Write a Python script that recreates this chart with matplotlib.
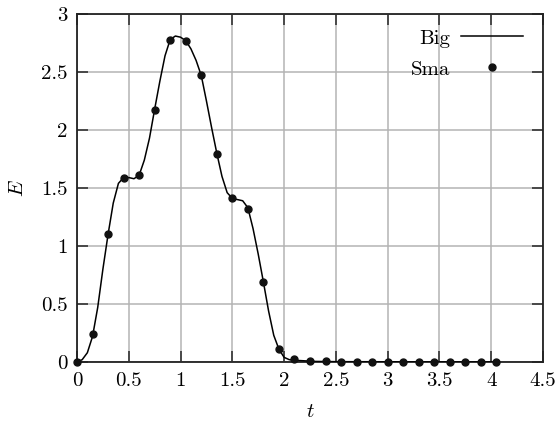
import numpy as np
import matplotlib
matplotlib.use("Agg")
import matplotlib.pyplot as plt

plt.rcParams['font.family'] = 'serif'
plt.rcParams['font.serif'] = ['cmr10']
plt.rcParams['mathtext.fontset'] = 'cm'
plt.rcParams['axes.formatter.use_mathtext'] = True

# Big (solid line)
t_big = [0.00, 0.05, 0.10, 0.15, 0.20, 0.25, 0.30, 0.35, 0.40, 0.45, 0.50, 0.55,
         0.60, 0.65, 0.70, 0.75, 0.80, 0.85, 0.90, 0.95, 1.00, 1.05, 1.10, 1.15,
         1.20, 1.25, 1.30, 1.35, 1.40, 1.45, 1.50, 1.55, 1.60, 1.65, 1.70, 1.75,
         1.80, 1.85, 1.90, 1.95, 2.00, 2.05, 2.10, 2.20, 2.30, 2.50, 3.00, 3.50, 4.05]
E_big = [0.00, 0.02, 0.08, 0.22, 0.47, 0.80, 1.10, 1.37, 1.54, 1.59, 1.59, 1.58,
         1.61, 1.74, 1.93, 2.18, 2.42, 2.64, 2.78, 2.81, 2.80, 2.77, 2.70, 2.60,
         2.47, 2.25, 2.02, 1.80, 1.60, 1.46, 1.41, 1.40, 1.39, 1.33, 1.15, 0.93,
         0.69, 0.44, 0.23, 0.11, 0.04, 0.02, 0.015, 0.01, 0.005, 0.003, 0.002, 0.001, 0.001]

# Sma (dots)
t_sma = [0.00, 0.15, 0.30, 0.45, 0.60, 0.75, 0.90, 1.05, 1.20, 1.35, 1.50, 1.65,
         1.80, 1.95, 2.10, 2.25, 2.40, 2.55, 2.70, 2.85, 3.00, 3.15, 3.30, 3.45,
         3.60, 3.75, 3.90, 4.05]
E_sma = [0.00, 0.24, 1.10, 1.59, 1.61, 2.17, 2.78, 2.77, 2.47, 1.79, 1.41, 1.32,
         0.69, 0.11, 0.025, 0.01, 0.005, 0.003, 0.002, 0.002, 0.001, 0.001, 0.001, 0.001,
         0.001, 0.001, 0.001, 0.001]

xticks = [0, 0.5, 1, 1.5, 2, 2.5, 3, 3.5, 4, 4.5]
xticklabels = ['0', '0.5', '1', '1.5', '2', '2.5', '3', '3.5', '4', '4.5']
yticks = [0, 0.5, 1, 1.5, 2, 2.5, 3]
yticklabels = ['0', '0.5', '1', '1.5', '2', '2.5', '3']

fig = plt.figure(figsize=(5.56, 4.24), dpi=100)
ax = fig.add_axes([77/556, 1-362/424, (543-77)/556, (362-14)/424])

ax.plot(t_big, E_big, color='black', lw=1.1, label='Big', zorder=3)
ax.plot(t_sma, E_sma, linestyle='none', marker='o', ms=5, color='#111111',
        label='Sma', zorder=4, clip_on=False)

ax.set_xlim(0, 4.5)
ax.set_ylim(0, 3)
ax.set_xticks(xticks)
ax.set_xticklabels(xticklabels)
ax.set_yticks(yticks)
ax.set_yticklabels(yticklabels)
ax.grid(True, color='#b4b4b4', lw=1.1, zorder=0)
ax.set_axisbelow(True)
ax.tick_params(direction='in', length=8, width=1.2, top=True, right=True,
               labelsize=15, pad=7, color='#333333')
for s in ax.spines.values():
    s.set_linewidth(1.3)
    s.set_color('#222222')

ax.set_xlabel('$t$', fontsize=15, labelpad=10)
ax.set_ylabel('$E$', fontsize=15, labelpad=10)

leg = ax.legend(loc='upper right', frameon=False, markerfirst=False, fontsize=15,
                handlelength=3.0, borderaxespad=0, borderpad=0,
                bbox_to_anchor=((523-77)/466, 1-(29-14)/348),
                labelspacing=0.6, handletextpad=0.5)

fig.savefig('out.png', dpi=100)
